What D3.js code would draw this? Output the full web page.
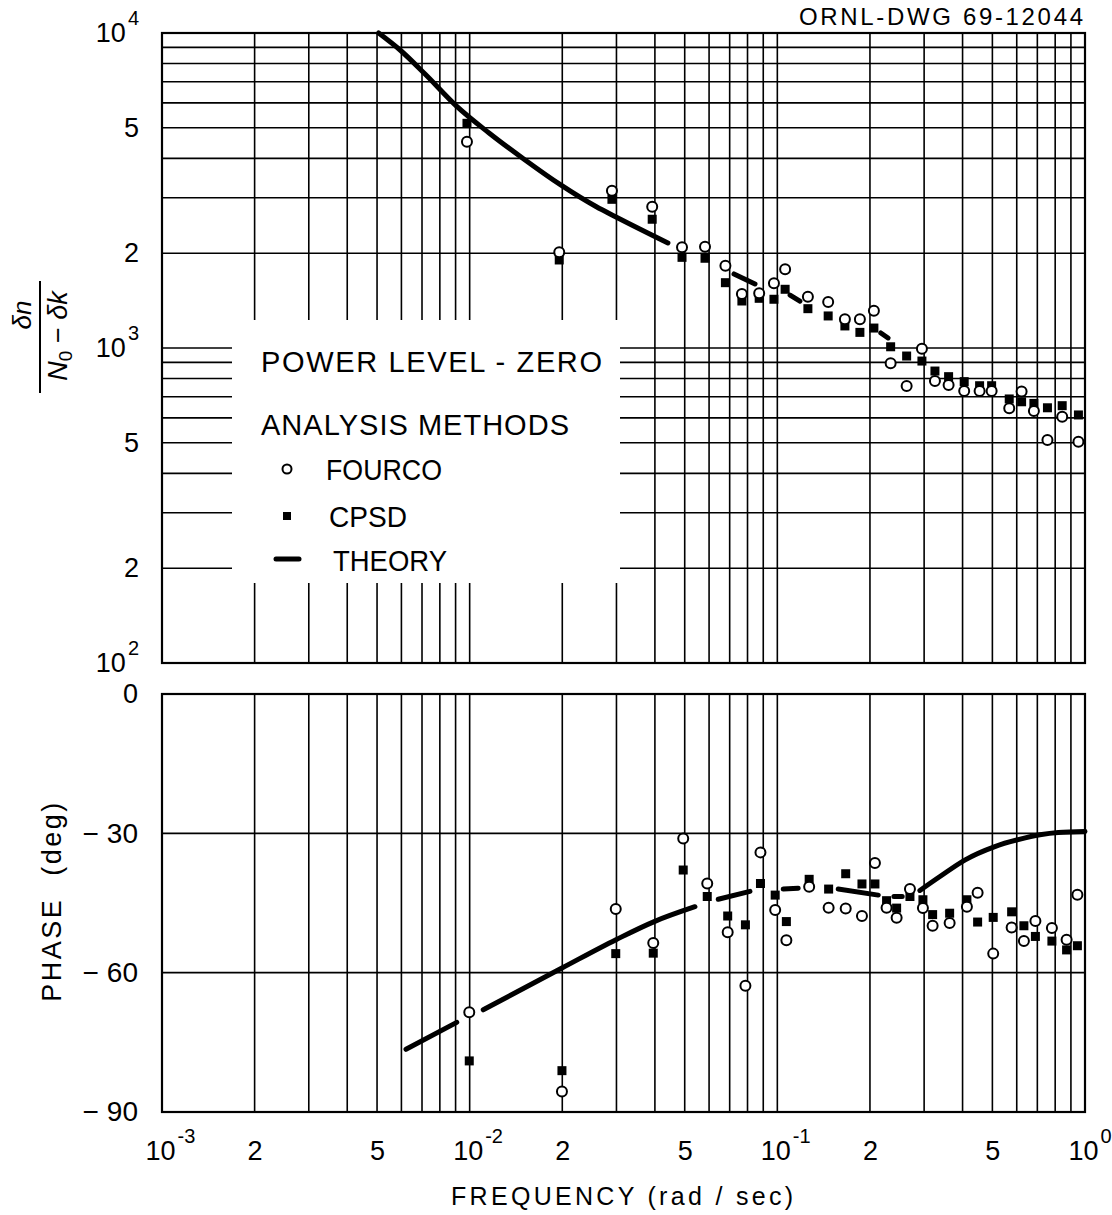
<!DOCTYPE html>
<html>
<head>
<meta charset="utf-8">
<script src="https://cdn.jsdelivr.net/npm/d3@7"></script>
<style>
  body { margin: 0; background: #fff; }
  svg { display: block; font-family: "Liberation Sans", Arial, sans-serif; }
</style>
</head>
<body>
<svg id="chart" width="1112" height="1215"></svg>
<script>
// magnitude points (rad/sec), same frequencies for both methods
const magFreq = [0.0098, 0.01955, 0.0290, 0.0392, 0.0490, 0.0582, 0.0678, 0.0767, 0.0873, 0.0975,
  0.106, 0.1257, 0.1463, 0.1658, 0.1855, 0.206, 0.2335, 0.2632, 0.2951, 0.3253,
  0.3603, 0.4049, 0.4544, 0.4972, 0.5672, 0.6222, 0.6822, 0.755, 0.8431, 0.952];
const fourcoMag = [4519, 2013, 3158, 2810, 2087, 2095, 1825, 1484, 1492, 1605,
  1777, 1455, 1400, 1234, 1234, 1314, 894, 758, 995, 786,
  763, 730, 730, 730, 644, 727, 631, 510, 605, 504];
const cpsdMag = [5168, 1903, 2965, 2563, 1940, 1927, 1612, 1410, 1438, 1428,
  1536, 1333, 1264, 1175, 1121, 1157, 1009, 943, 909, 845,
  811, 782, 759, 759, 689, 675, 667, 646, 656, 613];

// phase points (deg)
const phaseFreq = [0.00997, 0.01995, 0.02984, 0.03951, 0.04944, 0.05918, 0.06897, 0.07875, 0.08814, 0.0984,
  0.1070, 0.1269, 0.1468, 0.1668, 0.1884, 0.2076, 0.2265, 0.2442, 0.2698, 0.2973,
  0.3197, 0.3631, 0.4132, 0.4477, 0.5031, 0.5775, 0.6330, 0.6899, 0.7806, 0.8713, 0.9447];
const fourcoPhase = [-68.5, -85.6, -46.3, -53.6, -31.1, -40.8, -51.3, -62.8, -34.1, -46.5,
  -53.0, -41.5, -46.0, -46.2, -47.8, -36.4, -46.0, -48.2, -42.0, -46.1,
  -49.9, -49.3, -45.8, -42.8, -55.9, -50.3, -53.2, -48.9, -50.4, -52.9, -43.2];
const cpsdPhase = [-79.0, -81.1, -55.9, -55.8, -37.9, -43.6, -47.8, -49.7, -40.8, -43.3,
  -49.0, -39.9, -42.0, -38.7, -40.9, -40.9, -44.5, -46.1, -43.6, -44.3,
  -47.5, -47.2, -44.3, -49.1, -48.1, -46.9, -49.9, -52.2, -53.2, -55.1, -54.2];

// theory curves, null = break in the line
const theoryMagFreq = [0.00506, 0.00594, 0.00716, 0.0091, 0.01156, 0.01514, 0.01977, 0.02574, 0.03034, 0.04409,
  null, 0.0723, 0.0846, null, 0.110, 0.1184, null, 0.217, 0.229];
const theoryMag = [10000, 8831, 7410, 5837, 4815, 3953, 3293, 2812, 2587, 2155,
  null, 1718, 1597, null, 1473, 1409, null, 1116, 1076];
const theoryPhaseFreq = [0.00621, 0.00908, null, 0.01107, 0.01995, 0.02989, 0.0398, 0.05398, null, 0.06427, 0.08147,
  null, 0.1045, 0.1169, null, 0.1577, 0.2128, null, 0.2393, 0.2546, null,
  0.2906, 0.3377, 0.408, 0.5069, 0.6114, 0.7136, 0.8182, 1.0];
const theoryPhase = [-76.5, -70.7, null, -68.0, -59.0, -52.9, -49.0, -45.8, null, -44.2, -42.5,
  null, -42.0, -41.8, null, -42.0, -43.3, null, -43.6, -43.6, null,
  -42.3, -39.3, -35.7, -32.9, -31.3, -30.3, -29.8, -29.6];

// ticks
const freqTicks = [0.001, 0.002, 0.005, 0.01, 0.02, 0.05, 0.1, 0.2, 0.5, 1];
const freqTickLabels = ["10^-3", "2", "5", "10^-2", "2", "5", "10^-1", "2", "5", "10^0"];
const magTicks = [100, 200, 500, 1000, 2000, 5000, 10000];
const magTickLabels = ["10^2", "2", "5", "10^3", "2", "5", "10^4"];
const phaseTicks = [-90, -60, -30, 0];
const phaseTickLabels = ["-90", "-60", "-30", "0"];

const left = 162, right = 1085;
const magTop = 33, magBottom = 663;
const phaseTop = 694, phaseBottom = 1112;

const svg = d3.select("#chart");

const x = d3.scaleLog().domain([1e-3, 1]).range([left, right]);
const yMag = d3.scaleLog().domain([100, 10000]).range([magBottom, magTop]);
const yPhase = d3.scaleLinear().domain([-90, 0]).range([phaseBottom, phaseTop]);

// grid positions 1..9 x each decade
const xGrid = [];
for (let e = -3; e < 0; e++) for (let m = 1; m < 10; m++) xGrid.push(m * Math.pow(10, e));
xGrid.push(1);
const magGrid = [];
for (let e = 2; e < 4; e++) for (let m = 1; m < 10; m++) magGrid.push(m * Math.pow(10, e));

// ---- top panel grid
const gTop = svg.append("g").attr("stroke", "#000").attr("stroke-width", 1.6);
gTop.selectAll("line.v").data(xGrid).join("line").attr("class", "v")
  .attr("x1", d => x(d)).attr("x2", d => x(d))
  .attr("y1", magTop).attr("y2", magBottom);
gTop.selectAll("line.h").data(magGrid).join("line").attr("class", "h")
  .attr("x1", left).attr("x2", right)
  .attr("y1", d => yMag(d)).attr("y2", d => yMag(d));

// legend panel hides grid
svg.append("rect").attr("x", 232).attr("y", 320).attr("width", 388).attr("height", 263).attr("fill", "#fff");

// ---- bottom panel grid
const gBot = svg.append("g").attr("stroke", "#000").attr("stroke-width", 1.6);
gBot.selectAll("line.v").data(xGrid).join("line").attr("class", "v")
  .attr("x1", d => x(d)).attr("x2", d => x(d))
  .attr("y1", phaseTop).attr("y2", phaseBottom);
gBot.selectAll("line.h").data([-60, -30]).join("line").attr("class", "h")
  .attr("x1", left).attr("x2", right)
  .attr("y1", d => yPhase(d)).attr("y2", d => yPhase(d));

// frames
[[magTop, magBottom], [phaseTop, phaseBottom]].forEach(([t, b]) => {
  svg.append("rect").attr("x", left).attr("y", t).attr("width", right - left).attr("height", b - t)
    .attr("fill", "none").attr("stroke", "#000").attr("stroke-width", 2.2);
});

// ---- theory lines
const theoryMagData = theoryMagFreq.map((f, i) => ({ f, v: theoryMag[i] }));
const theoryPhaseData = theoryPhaseFreq.map((f, i) => ({ f, v: theoryPhase[i] }));

svg.append("path").datum(theoryMagData)
  .attr("fill", "none").attr("stroke", "#000").attr("stroke-width", 5).attr("stroke-linecap", "round")
  .attr("d", d3.line().defined(d => d.f != null).x(d => x(d.f)).y(d => yMag(d.v)).curve(d3.curveMonotoneX));

svg.append("path").datum(theoryPhaseData)
  .attr("fill", "none").attr("stroke", "#000").attr("stroke-width", 5).attr("stroke-linecap", "round")
  .attr("d", d3.line().defined(d => d.f != null).x(d => x(d.f)).y(d => yPhase(d.v)).curve(d3.curveMonotoneX));

// ---- markers
const sq = 9;
function squares(freqs, vals, y) {
  svg.append("g").selectAll("rect").data(freqs.map((f, i) => ({ f, v: vals[i] }))).join("rect")
    .attr("x", d => x(d.f) - sq / 2).attr("y", d => y(d.v) - sq / 2)
    .attr("width", sq).attr("height", sq).attr("fill", "#000");
}
function circles(freqs, vals, y) {
  svg.append("g").selectAll("circle").data(freqs.map((f, i) => ({ f, v: vals[i] }))).join("circle")
    .attr("cx", d => x(d.f)).attr("cy", d => y(d.v)).attr("r", 5)
    .attr("fill", "#fff").attr("stroke", "#000").attr("stroke-width", 2);
}
squares(magFreq, cpsdMag, yMag);
circles(magFreq, fourcoMag, yMag);
squares(phaseFreq, cpsdPhase, yPhase);
circles(phaseFreq, fourcoPhase, yPhase);

// ---- tick labels
function writeLabel(text, label, centerBase) {
  const parts = label.split("^");
  text.text(null).attr("font-size", 27).attr("fill", "#000");
  if (parts.length > 1) {
    const base = text.append("tspan").text(parts[0]);
    text.append("tspan").attr("font-size", 20).attr("dy", -17).attr("dx", 2).text(parts[1]);
    if (centerBase) {
      const w = base.node().getComputedTextLength();
      text.attr("text-anchor", "start").attr("x", -w / 2 - 2);
    }
  } else if (label.startsWith("-")) {
    // plotter minus sits apart from the digits
    text.attr("font-size", 28);
    text.append("tspan").text("\u2212");
    text.append("tspan").attr("dx", 8).text(label.slice(1));
  } else {
    text.text(label);
  }
}

const magAxis = svg.append("g").attr("transform", `translate(${left},0)`)
  .call(d3.axisLeft(yMag).tickValues(magTicks).tickSize(0).tickPadding(23).tickFormat(""));
magAxis.attr("font-family", null).attr("font-size", null).select(".domain").remove();
magAxis.selectAll(".tick text").each(function (d, i) { writeLabel(d3.select(this), magTickLabels[i], false); });

const phaseAxis = svg.append("g").attr("transform", `translate(${left},0)`)
  .call(d3.axisLeft(yPhase).tickValues(phaseTicks).tickSize(0).tickPadding(24).tickFormat(""));
phaseAxis.attr("font-family", null).attr("font-size", null).select(".domain").remove();
phaseAxis.selectAll(".tick text").each(function (d, i) { writeLabel(d3.select(this), phaseTickLabels[i], false); });

const freqAxis = svg.append("g").attr("transform", `translate(0,${phaseBottom})`)
  .call(d3.axisBottom(x).tickValues(freqTicks).tickSize(0).tickPadding(29).tickFormat(""));
freqAxis.attr("font-family", null).attr("font-size", null).select(".domain").remove();
freqAxis.selectAll(".tick text").each(function (d, i) { writeLabel(d3.select(this), freqTickLabels[i], true); });

// ---- axis titles
svg.append("text").attr("x", 622).attr("y", 1205).attr("text-anchor", "middle")
  .attr("font-size", 25).attr("textLength", 342).attr("lengthAdjust", "spacing")
  .text("FREQUENCY (rad / sec)");

const phaseTitle = svg.append("text").attr("transform", "translate(61,901) rotate(-90)")
  .attr("text-anchor", "middle").attr("font-size", 27).attr("letter-spacing", 2.5);
phaseTitle.append("tspan").text("PHASE");
phaseTitle.append("tspan").attr("dx", 22).text("(deg)");

const frac = svg.append("g").attr("transform", "translate(40,337) rotate(-90)");
frac.append("line").attr("x1", -56).attr("x2", 56).attr("y1", 0).attr("y2", 0)
  .attr("stroke", "#000").attr("stroke-width", 2);
frac.append("text").attr("x", 22).attr("y", -9).attr("text-anchor", "middle").attr("font-size", 26)
  .attr("font-style", "italic").text("δn");
const den = frac.append("text").attr("x", 1).attr("y", 27).attr("text-anchor", "middle").attr("font-size", 27);
den.append("tspan").attr("font-style", "italic").text("N");
den.append("tspan").attr("font-size", 19).attr("dy", 5).text("0");
den.append("tspan").attr("dy", -5).text(" − ");
den.append("tspan").attr("font-style", "italic").text("δk");

svg.append("text").attr("x", 1083).attr("y", 25).attr("text-anchor", "end")
  .attr("font-size", 24).attr("textLength", 284).attr("lengthAdjust", "spacing")
  .text("ORNL-DWG 69-12044");

// ---- legend
const lg = svg.append("g").attr("font-size", 29).attr("fill", "#000");
lg.append("text").attr("x", 261).attr("y", 372).attr("textLength", 341).attr("lengthAdjust", "spacing")
  .text("POWER LEVEL - ZERO");
lg.append("text").attr("x", 261).attr("y", 435).attr("textLength", 308).attr("lengthAdjust", "spacing")
  .text("ANALYSIS METHODS");
lg.append("circle").attr("cx", 287).attr("cy", 469).attr("r", 4.5)
  .attr("fill", "#fff").attr("stroke", "#000").attr("stroke-width", 2);
lg.append("text").attr("x", 326).attr("y", 480).attr("textLength", 116).attr("lengthAdjust", "spacingAndGlyphs")
  .text("FOURCO");
lg.append("rect").attr("x", 283).attr("y", 512).attr("width", sq - 1).attr("height", sq - 1).attr("fill", "#000");
lg.append("text").attr("x", 329).attr("y", 527).attr("textLength", 78).attr("lengthAdjust", "spacingAndGlyphs")
  .text("CPSD");
lg.append("line").attr("x1", 276).attr("x2", 299).attr("y1", 559).attr("y2", 559)
  .attr("stroke", "#000").attr("stroke-width", 5).attr("stroke-linecap", "round");
lg.append("text").attr("x", 333).attr("y", 571).attr("textLength", 114).attr("lengthAdjust", "spacingAndGlyphs")
  .text("THEORY");
</script>
</body>
</html>
